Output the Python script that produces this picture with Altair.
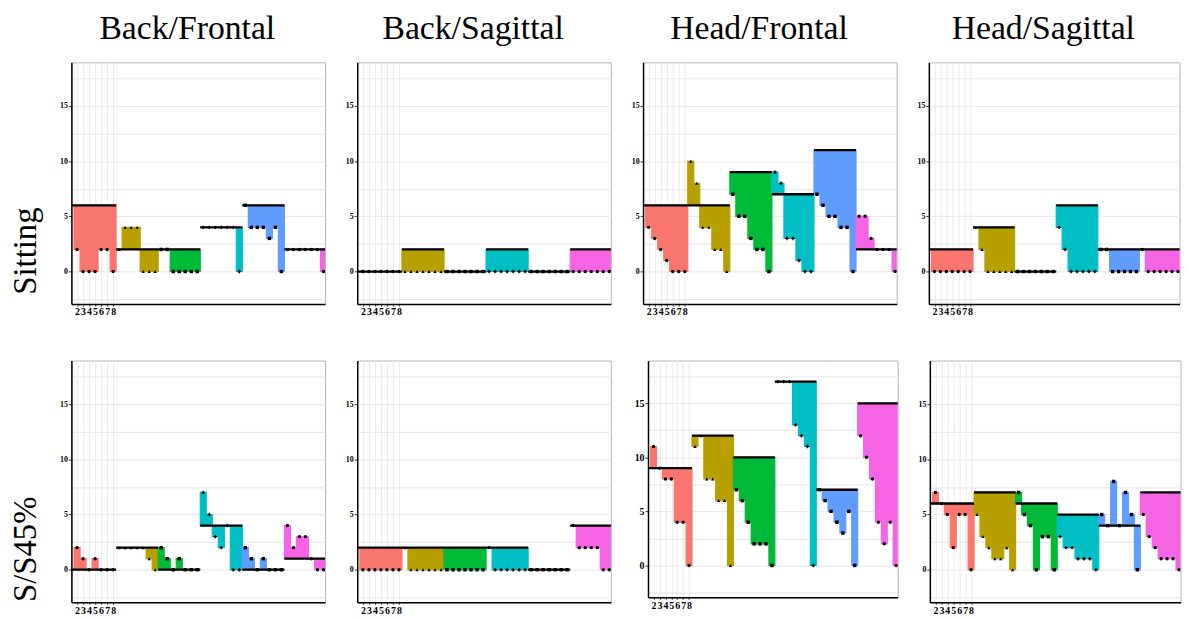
import altair as alt
import pandas as pd

# ---------------- data ----------------
groups = ["g1", "g2", "g3", "g4", "g5", "g6"]
group_colors = ["#F8766D", "#B79F00", "#00BA38", "#00BFC4", "#619CFF", "#F564E3"]
group_shapes = ["circle", "triangle-up", "square", "cross", "square", "circle"]
x_tick_labels = [2, 3, 4, 5, 6, 7, 8]
y_grid_values = [-2.5, 0, 2.5, 5, 7.5, 10, 12.5, 15, 17.5]
column_titles = ["Back/Frontal", "Back/Sagittal", "Head/Frontal", "Head/Sagittal"]
row_titles = ["Sitting", "S/S45%"]

# Sitting row
bf_sit_values = [2, 0, 0, 0, 2, 2, 0,
                 2, 4, 4, 4, 0, 0, 0,
                 2, 2, 0, 0, 0, 0, 0,
                 4, 4, 4, 4, 4, 4, 0,
                 6, 4, 4, 4, 3, 4, 0,
                 2, 2, 2, 2, 2, 2, 0]
bf_sit_baselines = [6, 2, 2, 4, 6, 2]

bs_sit_values = [0, 0, 0, 0, 0, 0, 0,
                 0, 0, 0, 0, 0, 0, 0,
                 0, 0, 0, 0, 0, 0, 0,
                 0, 0, 0, 0, 0, 0, 0,
                 0, 0, 0, 0, 0, 0, 0,
                 0, 0, 0, 0, 0, 0, 0]
bs_sit_baselines = [0, 2, 0, 2, 0, 2]

hf_sit_values = [4, 3, 2, 1, 0, 0, 0,
                 10, 8, 4, 4, 2, 2, 0,
                 7, 5, 5, 3, 2, 2, 0,
                 9, 8, 3, 3, 1, 0, 0,
                 7, 6, 5, 5, 4, 4, 0,
                 5, 5, 3, 2, 2, 2, 0]
hf_sit_baselines = [6, 6, 9, 7, 11, 2]

hs_sit_values = [0, 0, 0, 0, 0, 0, 0,
                 4, 2, 0, 0, 0, 0, 0,
                 0, 0, 0, 0, 0, 0, 0,
                 4, 2, 0, 0, 0, 0, 0,
                 2, 2, 0, 0, 0, 0, 0,
                 2, 0, 0, 0, 0, 0, 0]
hs_sit_baselines = [2, 4, 0, 6, 2, 2]

# S/S45% row
bf_s45_values = [2, 1, 0, 1, 0, 0, 0,
                 2, 2, 2, 2, 2, 1, 0,
                 2, 1, 0, 1, 0, 0, 0,
                 7, 5, 3, 2, 4, 0, 0,
                 2, 1, 0, 1, 0, 0, 0,
                 4, 2, 3, 3, 1, 0, 0]
bf_s45_baselines = [0, 2, 0, 4, 0, 1]

bs_s45_values = [0, 0, 0, 0, 0, 0, 0,
                 2, 0, 0, 0, 0, 0, 0,
                 0, 0, 0, 0, 0, 0, 0,
                 2, 0, 0, 0, 0, 0, 0,
                 0, 0, 0, 0, 0, 0, 0,
                 4, 2, 2, 2, 2, 0, 0]
bs_s45_baselines = [2, 2, 2, 2, 0, 4]

hf_s45_values = [11, 9, 8, 8, 4, 4, 0,
                 11, 12, 8, 8, 6, 6, 0,
                 7, 6, 4, 2, 2, 2, 0,
                 17, 17, 17, 13, 12, 11, 0,
                 7, 6, 5, 4, 3, 5, 0,
                 12, 10, 8, 4, 2, 4, 0]
hf_s45_baselines = [9, 12, 10, 17, 7, 15]

hs_s45_values = [7, 6, 5, 2, 5, 5, 0,
                 5, 3, 2, 1, 1, 2, 0,
                 7, 5, 4, 0, 3, 3, 0,
                 3, 2, 2, 1, 1, 1, 0,
                 5, 4, 8, 4, 7, 5, 0,
                 5, 3, 2, 1, 1, 1, 0]
hs_s45_baselines = [6, 7, 6, 5, 4, 7]

N_PER_GROUP = 7
FIRST_POS = 2


def make_points(vals, bases):
    recs = []
    for gi, g in enumerate(groups):
        for k in range(N_PER_GROUP):
            pos = FIRST_POS + gi * N_PER_GROUP + k
            recs.append(dict(group=g, pos=pos, x0=pos - 0.5, x1=pos + 0.5,
                             val=vals[gi * N_PER_GROUP + k], base=bases[gi]))
    return pd.DataFrame(recs)


def make_baselines(bases):
    recs = []
    for gi, g in enumerate(groups):
        start = FIRST_POS + gi * N_PER_GROUP
        recs.append(dict(group=g, xs=(start - 1.0 if gi == 0 else start - 0.5),
                         xe=start + N_PER_GROUP - 0.5, base=bases[gi]))
    return pd.DataFrame(recs)


SERIF = "Liberation Serif"
xscale = alt.Scale(domain=[1.06, 43.26], nice=False, zero=False)
yscale = alt.Scale(domain=[-2.95, 18.95], nice=False, zero=False)
cscale = alt.Scale(domain=groups, range=group_colors)
sscale = alt.Scale(domain=groups, range=group_shapes)


def panel(vals, bases, w=256, h=244, title=None, ytitle=None, yfs=8, xfs=10, ext=22):
    df = make_points(vals, bases)
    bdf = make_baselines(bases)
    xaxis = alt.Axis(values=x_tick_labels, grid=True, gridColor="#EBEBEB", gridWidth=1.1,
                     domainColor="black", domainWidth=1.5, tickColor="#333333", tickSize=2,
                     labelFont=SERIF, labelFontWeight="bold", labelFontSize=xfs,
                     labelColor="black", labelPadding=1, labelAngle=0,
                     labelOverlap=False, labelFlush=False,
                     minExtent=12, maxExtent=12, title=None)
    yargs = dict(values=y_grid_values,
                 labelExpr="datum.value % 5 === 0 ? datum.label : ''",
                 grid=True, gridColor="#EBEBEB", gridWidth=1.1,
                 domainColor="black", domainWidth=1.5, tickColor="#333333", tickSize=3,
                 tickOpacity={"condition": {"test": "datum.value % 5 === 0", "value": 1}, "value": 0},
                 labelFont=SERIF, labelFontWeight="bold", labelFontSize=yfs,
                 labelColor="black", labelPadding=1, labelOverlap=False,
                 minExtent=ext, maxExtent=ext)
    if ytitle:
        yargs.update(title=ytitle, titleFont=SERIF, titleFontSize=33,
                     titleFontWeight="normal", titleColor="black", titlePadding=7,
                     titleY=190)
    else:
        yargs.update(title=None)
    yaxis = alt.Axis(**yargs)

    bars = alt.Chart(df).mark_rect(clip=True, strokeWidth=1.2).encode(
        x=alt.X("x0:Q", scale=xscale, axis=xaxis),
        x2="x1:Q",
        y=alt.Y("val:Q", scale=yscale, axis=yaxis),
        y2="base:Q",
        color=alt.Color("group:N", scale=cscale, legend=None),
        stroke=alt.Stroke("group:N", scale=cscale, legend=None),
    )
    lines = alt.Chart(bdf).mark_rule(clip=True, color="black", strokeWidth=2.3).encode(
        x=alt.X("xs:Q", scale=xscale, axis=xaxis),
        x2="xe:Q",
        y=alt.Y("base:Q", scale=yscale, axis=yaxis),
    )
    pts = alt.Chart(df).mark_point(filled=True, color="black", size=12, opacity=1).encode(
        x=alt.X("pos:Q", scale=xscale, axis=xaxis),
        y=alt.Y("val:Q", scale=yscale, axis=yaxis),
        shape=alt.Shape("group:N", scale=sscale, legend=None),
    )
    ch = alt.layer(bars, lines, pts).properties(width=w, height=h)
    if title:
        ch = ch.properties(title=alt.TitleParams(
            text=title, font=SERIF, fontSize=34, fontWeight="normal", color="black",
            anchor="middle", baseline="alphabetic", offset=-10, dx=-11))
    return ch


row1 = alt.hconcat(
    panel(bf_sit_values, bf_sit_baselines, title=column_titles[0], ytitle=row_titles[0]),
    panel(bs_sit_values, bs_sit_baselines, title=column_titles[1]),
    panel(hf_sit_values, hf_sit_baselines, title=column_titles[2]),
    panel(hs_sit_values, hs_sit_baselines, w=253, title=column_titles[3]),
    spacing=8.5,
)
row2 = alt.hconcat(
    panel(bf_s45_values, bf_s45_baselines, ytitle=row_titles[1]),
    panel(bs_s45_values, bs_s45_baselines),
    panel(hf_s45_values, hf_s45_baselines, w=252, h=239, yfs=10, xfs=10, ext=27),
    panel(hs_s45_values, hs_s45_baselines, w=253),
    spacing=8.5,
)

chart = alt.vconcat(row1, row2, spacing=42).properties(
    padding={"left": 1, "top": 0, "right": 0, "bottom": 0},
    background="white",
).configure_view(stroke="#B3B3B3", strokeWidth=1)

chart.save("out.html", embed_options={"renderer": "svg", "actions": False})
